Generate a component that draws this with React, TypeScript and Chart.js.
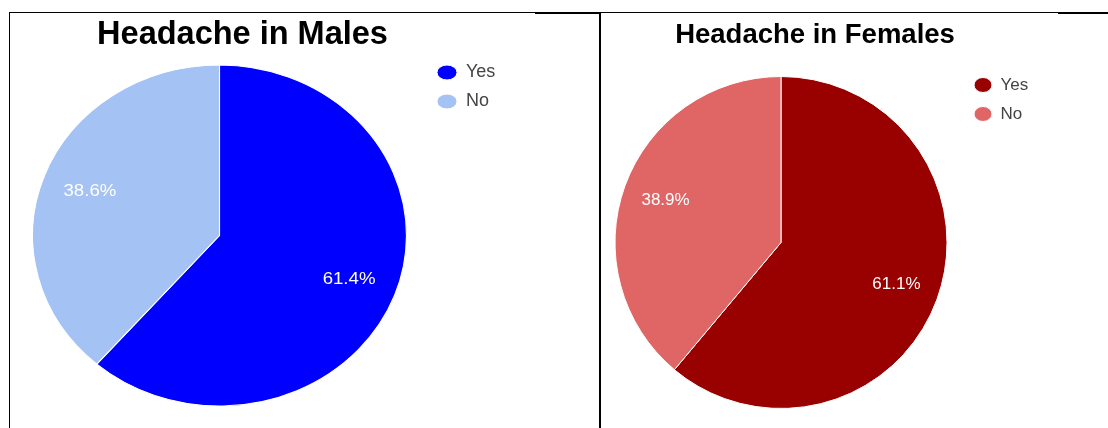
import React, { useEffect, useRef } from 'react';
import { Chart, registerables } from 'chart.js';

Chart.register(...registerables);

const categories = ['Yes', 'No'];
const maleValues = [61.4, 38.6];
const femaleValues = [61.1, 38.9];
const maleColors = ['#0000ff', '#a4c2f4'];
const femaleColors = ['#990000', '#e06666'];
const maleTitle = 'Headache in Males';
const femaleTitle = 'Headache in Females';

const FONT = "'Liberation Sans', Arial, Helvetica, sans-serif";

const stretchPlugin = {
  id: 'stretchPie',
  afterLayout(chart: any, _args: any, opts: any) {
    const t = chart.titleBlock;
    if (t && opts.titleDx) {
      t.left += opts.titleDx;
      t.right += opts.titleDx;
    }
  },
  beforeDatasetsDraw(chart: any, _args: any, opts: any) {
    const arc = chart.getDatasetMeta(0).data[0];
    if (!arc) return;
    const ctx = chart.ctx;
    ctx.save();
    ctx.translate(arc.x, 0);
    ctx.scale(opts.sx ?? 1, 1);
    ctx.translate(-arc.x, 0);
  },
  afterDatasetsDraw(chart: any, _args: any, opts: any) {
    const meta = chart.getDatasetMeta(0);
    if (!meta.data[0]) return;
    const ctx = chart.ctx;
    const data: number[] = chart.data.datasets[0].data;
    const total = data.reduce((a, b) => a + b, 0);
    ctx.font = `${opts.fontSize}px ${FONT}`;
    ctx.fillStyle = opts.color;
    ctx.textAlign = 'center';
    ctx.textBaseline = 'middle';
    meta.data.forEach((arc: any, i: number) => {
      const p = arc.getProps(['x', 'y', 'startAngle', 'endAngle', 'outerRadius'], true);
      const mid = (p.startAngle + p.endAngle) / 2;
      const r = p.outerRadius * opts.labelRadius;
      const text = ((data[i] / total) * 100).toFixed(1) + '%';
      ctx.fillText(text, p.x + Math.cos(mid) * r, p.y + Math.sin(mid) * r);
    });
    ctx.restore();
  },
};

type Cfg = {
  x: number; y: number; W: number; H: number;
  L: number; R: number; B: number; LW: number;
  titleSize: number; titleLH: number; titlePadTop: number; titlePadBottom: number; titleDx: number;
  legendSize: number; boxW: number; boxH: number; legendPad: number; legendTitleH: number;
  sx: number;
};

function PieChart({ values, colors, title, cfg }: { values: number[]; colors: string[]; title: string; cfg: Cfg }) {
  const ref = useRef<HTMLCanvasElement>(null);
  useEffect(() => {
    if (!ref.current) return;
    const chart = new Chart(ref.current, {
      type: 'pie',
      data: {
        labels: categories,
        datasets: [{ data: values, backgroundColor: colors, borderColor: '#ffffff', borderWidth: 1 }],
      },
      options: {
        responsive: false,
        animation: false,
        devicePixelRatio: 1,
        layout: { padding: { left: cfg.L, right: cfg.R, top: 0, bottom: cfg.B } },
        plugins: {
          title: {
            display: true,
            text: title,
            color: '#000000',
            font: { family: FONT, size: cfg.titleSize, weight: 'bold', lineHeight: `${cfg.titleLH}px` },
            padding: { top: cfg.titlePadTop, bottom: cfg.titlePadBottom },
          },
          legend: {
            position: 'right',
            align: 'start',
            maxWidth: cfg.LW,
            title: { display: true, text: '', padding: 0, font: { size: 10, lineHeight: `${cfg.legendTitleH}px` } },
            labels: {
              usePointStyle: true,
              pointStyle: 'circle',
              pointStyleWidth: cfg.boxW,
              boxHeight: cfg.boxH,
              padding: cfg.legendPad,
              color: '#444444',
              font: { family: FONT, size: cfg.legendSize },
            },
          },
          tooltip: { enabled: false },
          stretchPie: { sx: cfg.sx, labelRadius: 0.74, fontSize: 17, color: '#ffffff', titleDx: cfg.titleDx },
        } as any,
      },
      plugins: [stretchPlugin as any],
    });
    return () => chart.destroy();
  }, []);
  return (
    <canvas
      ref={ref}
      width={cfg.W}
      height={cfg.H}
      style={{ position: 'absolute', left: cfg.x, top: cfg.y, width: cfg.W, height: cfg.H }}
    />
  );
}

const line = (left: number, top: number, width: number, height: number) => (
  <div style={{ position: 'absolute', left, top, width, height, background: '#000', zIndex: 2 }} />
);

const maleCfg: Cfg = {
  x: 10, y: 14, W: 588, H: 414,
  L: 3, R: 98, B: 21.5, LW: 74,
  titleSize: 32.5, titleLH: 38, titlePadTop: 2, titlePadBottom: 10.5, titleDx: -14,
  legendSize: 18, boxW: 20, boxH: 10.6, legendPad: 11, legendTitleH: 38.5,
  sx: 1.0965,
};

const femaleCfg: Cfg = {
  x: 596, y: 14, W: 512, H: 414,
  L: 4, R: 78, B: 19, LW: 68,
  titleSize: 27.5, titleLH: 40, titlePadTop: 1.3, titlePadBottom: 20.7, titleDx: 0,
  legendSize: 17, boxW: 18, boxH: 10.6, legendPad: 12, legendTitleH: 50.5,
  sx: 1,
};

export default function App() {
  return (
    <div style={{ position: 'fixed', left: 0, top: 0, width: 1108, height: 428, background: '#ffffff', overflow: 'hidden' }}>
      <PieChart values={maleValues} colors={maleColors} title={maleTitle} cfg={maleCfg} />
      <PieChart values={femaleValues} colors={femaleColors} title={femaleTitle} cfg={femaleCfg} />
      {line(9, 12, 1, 416)}
      {line(9, 12, 591, 1)}
      {line(535, 12, 65, 2)}
      {line(599, 12, 2, 416)}
      {line(600, 12, 458, 1)}
      {line(1058, 12, 50, 2)}
    </div>
  );
}
